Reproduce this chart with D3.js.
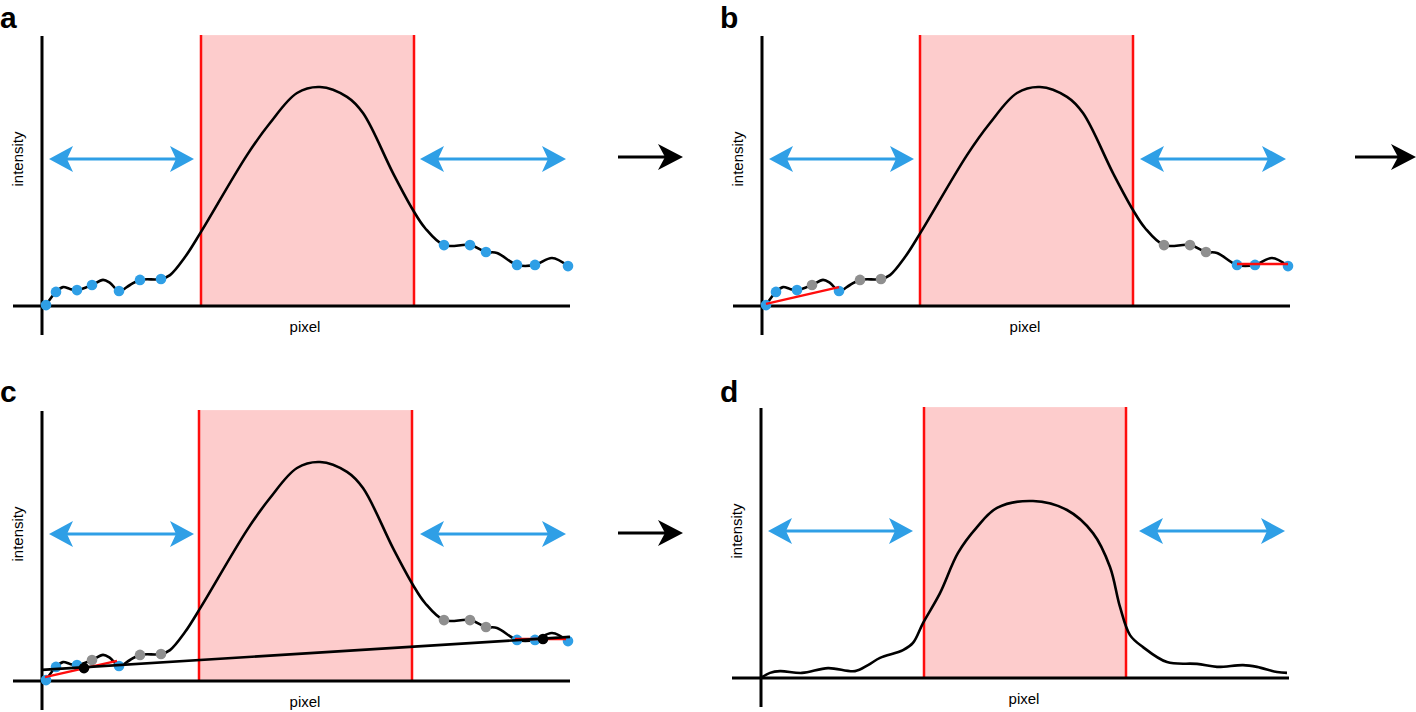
<!DOCTYPE html>
<html><head><meta charset="utf-8">
<script src="https://cdn.jsdelivr.net/npm/d3@7"></script>
<style>html,body{margin:0;padding:0;background:#fff;}svg{display:block;}</style>
</head><body>
<svg id="chart" width="1416" height="712"></svg>
<script>
// ---- data (pixel units 0..132, intensity units 0..90) ----
const panelLetters = ["a", "b", "c", "d"];
const xLabel = "pixel";
const yLabel = "intensity";

// raw profile (panels a, b, c)
const rawX = [1, 3.5, 5.25, 7, 8.75, 12.5, 15.25, 17, 19.25, 22, 24.5, 29.75, 32, 35.75, 39.75, 51.25, 57, 63.75, 69.5, 76.25, 80.25, 87.75, 92.75, 95.75, 100.5, 107, 111, 113.75, 118.75, 123.25, 127.5, 131.5];
const rawY = [0.3, 4.7, 6.3, 5.7, 5.3, 7, 8.7, 7.7, 5, 7, 8.7, 9, 10.3, 16.3, 24.7, 50.3, 61, 71, 73, 69.7, 64.3, 44.3, 32, 26, 20.3, 20.3, 18, 17.7, 13.7, 13.7, 16, 13.3];

// sampled background points (indices into raw profile)
const sampleIdx = [0, 1, 4, 5, 8, 10, 11, 24, 25, 26, 28, 29, 31];
const statusA = ["blue","blue","blue","blue","blue","blue","blue","blue","blue","blue","blue","blue","blue"];
const statusB = ["blue","blue","blue","gray","blue","gray","gray","gray","gray","gray","blue","blue","blue"];
const statusC = ["blue","blue","blue","gray","blue","gray","gray","gray","gray","gray","blue","blue","blue"];

// local linear fits [x0, y0, x1, y1]
const fitsB = [[1, 0.7, 19.25, 6.3], [118.75, 14, 131.5, 14]];
const fitsC = [[0.75, 1.3, 18.75, 6.7], [118.25, 14, 131, 14]];
// global baseline in c
const baselineC = [0, 3.7, 132, 14.7];
const anchorX = [10.5, 125.25];
const anchorY = [4.3, 14];

// corrected profile (panel d)
const corrX = [0, 2.25, 4.75, 10.25, 16.75, 23.5, 26.75, 29.75, 35.5, 38, 40.5, 44.75, 49.25, 54, 59, 68, 76.5, 83, 87.25, 89.75, 92.25, 95.5, 101.5, 109, 114, 120.5, 124, 129, 131.5];
const corrY = [0, 1.7, 2.3, 1.7, 3.3, 2.3, 4.3, 6.7, 9.3, 11.7, 18.3, 28.3, 41.7, 50.3, 56.7, 59, 56, 48.3, 37, 23.7, 14.3, 10.3, 5.3, 4.7, 3.7, 4.3, 3.7, 2, 1.7];

// peak windows [start, end]
const peakA = [39.75, 93];
const peakB = [39.5, 92.75];
const peakC = [39.25, 92.5];
const peakD = [40.75, 91.25];

// background windows (double arrows) [x0, x1], at intensity level
const bgLeft = [1.75, 38];
const bgRight = [94.5, 131];
const arrowLevel = 49;

// ---- drawing ----
const BLUE = "#2f9fe6", RED = "#ff0d0d", PINK = "#fdcccc", GRAY = "#8f8f8f";
const svg = d3.select("#chart");
const FONT = "'Liberation Sans', Arial, Helvetica, sans-serif";

const panels = [
  {letter: panelLetters[0], ox: 42, oy: 306, lx: 0, ly: 28, kind: "raw", peak: peakA, status: statusA, fits: [], base: false},
  {letter: panelLetters[1], ox: 762, oy: 306, lx: 720, ly: 28, kind: "raw", peak: peakB, status: statusB, fits: fitsB, base: false},
  {letter: panelLetters[2], ox: 42, oy: 681, lx: 0, ly: 402, kind: "raw", peak: peakC, status: statusC, fits: fitsC, base: true},
  {letter: panelLetters[3], ox: 761, oy: 678, lx: 720, ly: 402, kind: "corr", peak: peakD, status: null, fits: [], base: false}
];

function arrowHead(g, tipX, tipY, dir, len, half, notch, color) {
  const bx = tipX - dir * len, nx = tipX - dir * (len - notch);
  g.append("path")
    .attr("d", `M${tipX},${tipY} L${bx},${tipY - half} L${nx},${tipY} L${bx},${tipY + half} Z`)
    .attr("fill", color);
}

panels.forEach(p => {
  const x = d3.scaleLinear().domain([0, 132]).range([p.ox, p.ox + 528]);
  const y = d3.scaleLinear().domain([0, 90]).range([p.oy, p.oy - 270]);
  const g = svg.append("g");

  // peak window
  g.append("rect").attr("x", x(p.peak[0])).attr("y", y(90.3))
    .attr("width", x(p.peak[1]) - x(p.peak[0])).attr("height", y(0) - y(90.3))
    .attr("fill", PINK);
  p.peak.forEach(v => g.append("line").attr("x1", x(v)).attr("x2", x(v))
    .attr("y1", y(90.3)).attr("y2", y(0)).attr("stroke", RED).attr("stroke-width", 2.5));

  // axes
  g.append("line").attr("x1", x(0)).attr("x2", x(0)).attr("y1", y(90)).attr("y2", y(-9.7))
    .attr("stroke", "#000").attr("stroke-width", 3);
  g.append("line").attr("x1", x(-7.25)).attr("x2", x(132)).attr("y1", y(0)).attr("y2", y(0))
    .attr("stroke", "#000").attr("stroke-width", 3);

  // profile
  const xs = p.kind === "raw" ? rawX : corrX;
  const ys = p.kind === "raw" ? rawY : corrY;
  const line = d3.line().x(d => x(d[0])).y(d => y(d[1])).curve(d3.curveCatmullRom.alpha(0.5));
  g.append("path").attr("d", line(xs.map((v, i) => [v, ys[i]])))
    .attr("fill", "none").attr("stroke", "#000").attr("stroke-width", 2.6);

  if (p.status) {
    sampleIdx.forEach((k, i) => {
      g.append("circle").attr("cx", x(rawX[k])).attr("cy", y(rawY[k])).attr("r", 5.3)
        .attr("fill", p.status[i] === "blue" ? BLUE : GRAY);
    });
  }
  p.fits.forEach(f => g.append("line").attr("x1", x(f[0])).attr("y1", y(f[1]))
    .attr("x2", x(f[2])).attr("y2", y(f[3])).attr("stroke", RED).attr("stroke-width", 2.5));
  if (p.base) {
    g.append("line").attr("x1", x(baselineC[0])).attr("y1", y(baselineC[1]))
      .attr("x2", x(baselineC[2])).attr("y2", y(baselineC[3]))
      .attr("stroke", "#000").attr("stroke-width", 2.6);
    anchorX.forEach((v, i) => g.append("circle").attr("cx", x(v)).attr("cy", y(anchorY[i]))
      .attr("r", 5.3).attr("fill", "#000"));
  }

  // background double arrows
  const ay = y(arrowLevel);
  [bgLeft, bgRight].forEach(w => {
    g.append("line").attr("x1", x(w[0]) + 10).attr("x2", x(w[1]) - 10).attr("y1", ay).attr("y2", ay)
      .attr("stroke", BLUE).attr("stroke-width", 3);
    arrowHead(g, x(w[0]), ay, -1, 24, 13, 6, BLUE);
    arrowHead(g, x(w[1]), ay, 1, 24, 13, 6, BLUE);
  });

  // labels
  g.append("text").attr("x", p.lx).attr("y", p.ly).text(p.letter)
    .attr("font-family", FONT).attr("font-weight", "bold").attr("font-size", 30).attr("fill", "#000");
  g.append("text").attr("transform", `translate(${x(0) - 19},${y(49)}) rotate(-90)`)
    .attr("text-anchor", "middle").attr("font-family", FONT).attr("font-size", 15).text(yLabel);
  g.append("text").attr("x", x(65.75)).attr("y", y(0) + 26).attr("text-anchor", "middle")
    .attr("font-family", FONT).attr("font-size", 15).text(xLabel);
});

// flow arrows between panels
[[618, 683, 157], [1355, 1416, 157], [618, 683, 533]].forEach(a => {
  svg.append("line").attr("x1", a[0]).attr("x2", a[1] - 18).attr("y1", a[2]).attr("y2", a[2])
    .attr("stroke", "#000").attr("stroke-width", 3);
  arrowHead(svg, a[1], a[2], 1, 25, 13, 7, "#000");
});
</script>
</body></html>
